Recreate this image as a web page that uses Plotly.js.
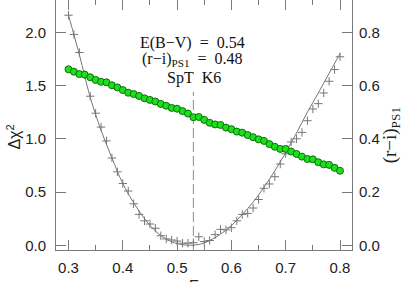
<!DOCTYPE html>
<html>
<head>
<meta charset="utf-8">
<script src="https://cdn.plot.ly/plotly-3.0.1.min.js"></script>
<style>
  html, body { margin: 0; padding: 0; background: #fff; }
  #chart { width: 403px; height: 282px; }
</style>
</head>
<body>
<div id="chart"></div>
<script>
// ---- data ----
const ebv = [0.30,0.31,0.32,0.33,0.34,0.35,0.36,0.37,0.38,0.39,
             0.40,0.41,0.42,0.43,0.44,0.45,0.46,0.47,0.48,0.49,
             0.50,0.51,0.52,0.53,0.54,0.55,0.56,0.57,0.58,0.59,
             0.60,0.61,0.62,0.63,0.64,0.65,0.66,0.67,0.68,0.69,
             0.70,0.71,0.72,0.73,0.74,0.75,0.76,0.77,0.78,0.79,0.80];

const dchi2 = [2.16,1.98,1.81,1.60,1.40,1.24,1.11,0.98,0.82,0.69,
               0.58,0.51,0.39,0.29,0.23,0.20,0.16,0.09,0.06,0.05,
               0.04,0.02,0.02,0.025,0.08,0.035,0.045,0.10,0.15,0.145,
               0.165,0.23,0.29,0.30,0.35,0.43,0.535,0.576,0.644,0.763,
               0.86,0.97,1.00,1.06,1.17,1.28,1.33,1.43,1.54,1.65,1.77];

const riPS1 = [0.661,0.652,0.643,0.641,0.631,0.621,0.614,0.612,0.601,0.593,
               0.583,0.573,0.568,0.561,0.552,0.546,0.540,0.531,0.524,0.516,
               0.513,0.504,0.495,0.481,0.482,0.471,0.460,0.454,0.452,0.442,
               0.436,0.427,0.423,0.414,0.406,0.398,0.392,0.380,0.370,0.362,
               0.362,0.352,0.343,0.333,0.324,0.323,0.312,0.304,0.302,0.291,0.280];

const fitE   = [0.30,0.32,0.34,0.36,0.38,0.40,0.42,0.44,0.46,0.48,
                0.50,0.52,0.54,0.56,0.58,0.60,0.62,0.64,0.66,0.68,
                0.70,0.72,0.74,0.76,0.78,0.80];
const fitChi = [2.16,1.79,1.39,1.08,0.82,0.58,0.40,0.25,0.135,0.058,
                0.016,0.001,0.008,0.045,0.105,0.185,0.29,0.405,0.545,0.70,
                0.87,1.055,1.25,1.43,1.615,1.80];

const bestE = 0.53;          // dashed marker of the minimum
const dashTop = 1.44;        // upper end of the dashed marker (Δχ² units)

const textLines = [
  "E(B\u2212V)\u00a0\u00a0=\u00a0\u00a00.54",
  "(r\u2212i)<sub>PS1</sub>\u00a0\u00a0=\u00a0\u00a00.48",
  "SpT\u00a0\u00a0K6"
];

const xTitle  = "E<sub>B\u2212V</sub>";
const yTitle  = "\u0394\u03c7<sup>2</sup>";
const y2Title = "(r\u2212i)<sub>PS1</sub>";

// ---- styles ----
const axisGray = "#7a7a7a";
const sans = "Liberation Sans, Arial, sans-serif";
const serif = "Liberation Serif, Times New Roman, serif";
const tickFont = {family: sans, size: 15, color: "#222"};

const traces = [
  {
    x: ebv, y: dchi2, type: "scatter", mode: "markers",
    marker: {symbol: "cross-thin", size: 6, color: "#777", line: {color: "#777", width: 1}},
    hoverinfo: "skip", showlegend: false
  },
  {
    x: fitE, y: fitChi, type: "scatter", mode: "lines",
    line: {color: "#777", width: 1, shape: "spline", smoothing: 1},
    hoverinfo: "skip", showlegend: false
  },
  {
    x: ebv, y: riPS1, type: "scatter", mode: "lines+markers", yaxis: "y2",
    line: {color: "#0a7a0a", width: 1},
    marker: {symbol: "circle", size: 7, color: "#1be01b", line: {color: "#0b6e0b", width: 1}},
    hoverinfo: "skip", showlegend: false
  }
];

const layout = {
  width: 403, height: 282,
  margin: {l: 56, r: 51, t: 0, b: 32, pad: 0},
  paper_bgcolor: "#fff", plot_bgcolor: "#fff",
  showlegend: false,
  xaxis: {
    range: [0.277, 0.8221],
    tickmode: "linear", tick0: 0.3, dtick: 0.1,
    ticks: "inside", ticklen: 10, tickwidth: 1, tickcolor: axisGray,
    minor: {dtick: 0.05, tick0: 0.3, ticks: "inside", ticklen: 5, tickcolor: axisGray, tickwidth: 1},
    showline: true, linecolor: axisGray, linewidth: 1, mirror: "ticks",
    showgrid: false, zeroline: false,
    tickfont: tickFont, ticklabelstandoff: 4,
    tickformat: ".1f"
  },
  yaxis: {
    range: [-0.044, 2.303],
    tickmode: "linear", tick0: 0, dtick: 0.5,
    ticks: "inside", ticklen: 10, tickwidth: 1, tickcolor: axisGray,
    showline: true, linecolor: axisGray, linewidth: 1, mirror: false,
    showgrid: false, zeroline: false,
    tickfont: tickFont, ticklabelstandoff: 6,
    tickformat: ".1f"
  },
  yaxis2: {
    overlaying: "y", side: "right",
    range: [-0.0176, 0.9212],
    tickmode: "linear", tick0: 0, dtick: 0.2,
    ticks: "inside", ticklen: 10, tickwidth: 1, tickcolor: axisGray,
    showline: true, linecolor: axisGray, linewidth: 1,
    showgrid: false, zeroline: false,
    tickfont: tickFont, ticklabelstandoff: 3,
    tickformat: ".1f"
  },
  shapes: [
    {type: "line", xref: "x", yref: "y", x0: bestE, x1: bestE, y0: -0.044, y1: dashTop,
     line: {color: "#8a8a8a", width: 1, dash: "10px,4px"}, layer: "below"}
  ],
  annotations: [
    {text: textLines[0], xref: "paper", yref: "paper", x: 0.4628, y: 0.8284,
     xanchor: "center", yanchor: "middle", showarrow: false,
     font: {family: serif, size: 16, color: "#111"}},
    {text: textLines[1], xref: "paper", yref: "paper", x: 0.4628, y: 0.762,
     xanchor: "center", yanchor: "middle", showarrow: false,
     font: {family: serif, size: 16, color: "#111"}},
    {text: textLines[2], xref: "paper", yref: "paper", x: 0.4650, y: 0.688,
     xanchor: "center", yanchor: "middle", showarrow: false,
     font: {family: serif, size: 16, color: "#111"}},
    {text: xTitle, xref: "paper", yref: "paper", x: 0.5, y: -0.094,
     xanchor: "center", yanchor: "top", showarrow: false,
     font: {family: sans, size: 15, color: "#222"}},
    {text: yTitle, xref: "paper", yref: "paper", x: -0.145, y: 0.45,
     xanchor: "center", yanchor: "middle", textangle: -90, showarrow: false,
     font: {family: sans, size: 16, color: "#222"}},
    {text: y2Title, xref: "paper", yref: "paper", x: 1.133, y: 0.46,
     xanchor: "center", yanchor: "middle", textangle: -90, showarrow: false,
     font: {family: serif, size: 19, color: "#222"}}
  ]
};

Plotly.newPlot("chart", traces, layout, {staticPlot: true, displayModeBar: false});
</script>
</body>
</html>
